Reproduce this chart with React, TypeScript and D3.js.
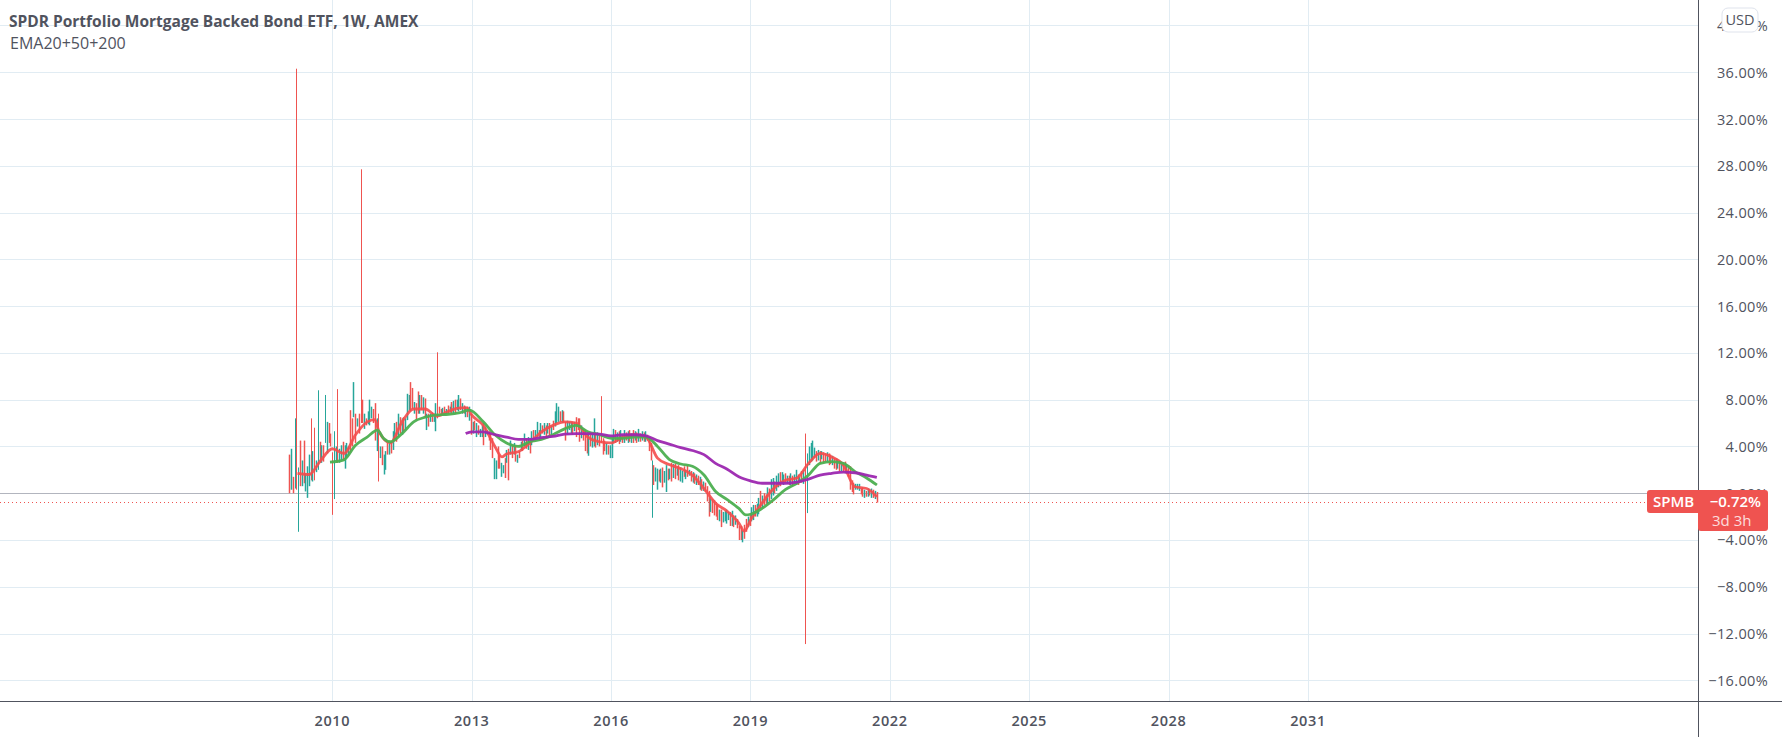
import * as d3 from "d3";

// [high %, low %, 1 = up / 0 = down], one bar every two weeks
type Bar = [number, number, number];

const bars2009: Bar[] = [
  [3.3,0,0],[3.8,.3,1],[1.4,0,0],[6.4,.4,1],[36.3,.3,0],[2.2,-3.3,1],[4.5,.6,0],[2.8,.6,1],[4.5,.85,0],[1.7,.15,1],
  [2.3,-.4,1],[3.3,.6,1],[6.4,1.1,0],[3.6,1,1],[5.6,1.1,0],[2.8,1.8,1],[8.8,2,1],[4.4,2.6,0],[4.1,2.6,1],[4.1,2.7,0],
  [8.4,4.3,1],[6.1,3.4,1],[6,4.3,0],[5.1,4,0],[3.5,-1.85,0],[5.3,-.5,1],[4,2.6,1],[8.9,2.6,0],[3.8,2.6,1],[4.1,2.8,1],
  [4.4,2.8,0],[4.1,2.1,1],[4.3,3,1],[4,3.3,1],[7.1,3.5,0],[6.4,4,0],[9.5,6.5,1],[6.8,4.3,0],[6.4,5.7,1],[6.8,5.1,0],
  [27.7,6,0],[8,6,0],[6.8,5.5,1],[6.4,5.8,0],[7,5.9,1],[8,5.8,1],[7.4,6.4,1],[7.2,6,0],[7.7,4.5,0],[6.4,3.6,1],
  [6.8,1,0],[4,3,1],[4,2.4,0],[3.3,1.6,1],[3.6,2,1],[4.3,3.3,0],[4.3,3.3,1],[4.4,3.4,0],[5.3,3.7,1],[6,4.5,1],
  [6.1,4.4,0],[6.8,4.8,1],[6.5,5.1,0],[6.4,5,1],[6.5,5.3,0],[6.4,5.4,1],[8.5,6.25,1],[8.4,7.1,1],[9.5,7,0],[9,7.2,0],
  [7.8,6.8,1],[7.7,6.3,0],[8.7,6.8,0],[8.4,6.8,1],[8.4,7.1,0],[8.2,6.8,1],[8.1,6.5,0],[6.8,5.4,1],[6.8,5.7,0],[6.8,6.1,1],
  [6.9,6.1,0],[6.8,6.1,1],[7.7,5.3,1],[12.05,6.4,0],[7.4,6.8,0],[7.2,6.7,0],[7.3,6.8,1],[7.4,6.7,0],[7.2,6.8,1],[7.5,6.8,0],
  [7.4,6.9,1],[7.6,6.9,1],
];

const bars2012: Bar[] = [
  [7.8,6.8,0],[7.9,6.8,1],[8,6.8,0],[8,7.1,1],[8.4,7,1],[8.1,7.1,0],[7.7,6.8,1],[7.5,6.8,0],[7.4,6.5,1],[7.4,6.5,0],
  [7.4,6.2,1],[6.8,5,0],[6.1,5.1,1],[6.2,5.4,0],[6,4.8,1],[5.8,5,0],[5.5,4.8,1],[5.8,4.8,1],[6,4.1,0],[5.7,4.8,1],
  [5.4,5,1],[5.3,4.5,0],[5.1,3.7,0],[4.7,3,0],[3,1.2,1],[2.8,1.2,1],[4,2.1,0],[3.3,2.1,0],[2.6,1.4,1],[2.4,1.7,1],
  [3,1.3,0],[3.7,2.6,1],[3.8,1.1,0],[4.5,3.3,1],[4.1,3,0],[4.3,3.3,1],[4,2.7,0],[3.3,2.6,1],[3.6,3,0],[4.4,3.6,1],
  [4.5,3.6,0],[5.1,4,1],[4.7,3.8,0],[4.8,3.7,1],[4.7,3.4,0],[5.3,4.1,1],[5.4,4.5,0],[5.4,4.8,1],[6.1,4.8,1],[5.4,4.5,0],
  [6,4.8,1],[5.8,5.1,0],[6,5,1],[5.8,4.7,0],[6,5.1,1],[6,4.8,0],[5.8,5,1],[6.2,5.4,0],[7,5.7,1],[7.7,6,1],
  [7.4,6.1,1],[7,6.1,0],[7.1,6,1],[7,6,0],[6.1,4.5,0],[6.2,5,1],[6.1,5.4,1],[6.1,5.1,1],[6.1,5,0],[6.1,5.3,1],
  [6.5,4.8,0],[6.4,5.4,0],[6.4,4.4,0],[5.8,4.7,1],[5.5,4.5,0],[5.4,3.6,0],[5.1,3.4,0],[5.1,3.2,1],[5,4,0],[5.1,3.9,1],
  [6.4,4,1],[5.2,3.9,0],[5.2,4.1,1],[4.9,4,0],[8.3,4.3,0],[4.7,3.3,0],[4.5,3.6,0],[4.3,3.3,1],[4.1,3.3,0],[4.1,3,1],
  [4.7,3,1],[5.5,4.3,1],[5.4,4.3,0],[5.2,4.4,1],[5.3,4.2,0],[5.4,4.4,1],[5,4.3,0],[5.4,4.3,1],[5.2,4.5,0],[5.3,4.3,1],
  [5.4,4.4,0],[5.1,4.3,1],[5.4,4.3,0],[5.3,4.5,1],[5.2,4.3,0],[5.5,4.4,1],[5.1,4.4,0],[5.3,4.5,1],[5.2,4.4,0],[5.3,4.4,1],
  [5,4.5,0],[4.8,3.6,0],[4.3,2.8,0],[2.8,-2.1,1],
];

const bars2016: Bar[] = [
  [2.4,.7,0],[2.2,1,1],[2.1,.3,1],[2,1,0],[2.1,.9,1],[2.2,.5,0],[1.9,.9,1],[2.4,.1,1],[2.1,1.1,0],[2.1,1.2,1],
  [2.6,1,0],[2.5,1.3,1],[2.5,1.2,0],[2.3,1.5,1],[2.4,1.1,0],[2.2,1,1],[1.9,.9,1],[2.3,1.4,0],[2,1.2,1],[2.4,1.4,0],
  [2,1.5,1],[1.9,1,0],[1.8,.9,1],[1.7,.8,0],[1.6,.7,1],[1.5,.7,0],[1.4,.3,1],[1.2,.2,0],[1,.2,1],[.9,.1,0],
  [.6,-.7,0],[.2,-2,0],[-.3,-1.6,1],[-.5,-1.7,0],[-.6,-1.9,0],[-.9,-2,0],[-1,-2.3,0],[-1.4,-2.4,1],[-1.4,-2.9,0],[-1.6,-2.5,1],
  [-1.5,-2.4,1],[-1.4,-2.6,1],[-1.6,-2.3,1],[-1.6,-2.8,0],[-1.5,-2.8,1],[-1.9,-2.9,0],[-1.9,-2.7,1],[-2.2,-3,0],[-2.8,-4,0],[-2.8,-4,0],
  [-3.2,-4.2,1],[-2.7,-3.9,0],[-2.2,-3.3,0],[-2,-2.9,1],[-1.8,-2.8,0],[-1.2,-2.4,1],[-1,-2.3,1],[-1,-2,0],[-.9,-2,1],[-.4,-1.8,1],
  [.2,-1.3,0],[-.2,-1.3,1],[0,-1,0],[-.1,-.9,0],[.5,-.9,1],[.4,-.7,0],[1.2,-.5,1],[1.3,-.2,1],[1,0,0],[1.5,.2,1],
  [1.7,.5,1],[1.8,.6,0],[1.8,.8,1],[1.6,.7,1],[1.7,.9,0],[1.5,.8,1],[1.5,.7,0],[1.7,.7,1],[1.5,.6,0],[1.6,.9,1],
  [2,.7,1],[1.6,.7,0],[1.4,.9,1],[1.9,.9,0],[2,.8,1],[5.1,-12.9,0],
];

const bars2020: Bar[] = [
  [3.4,-1.7,1],[4,2.4,1],[4.3,2.7,1],[4.5,2.8,1],[3.9,3,1],[3.6,2.7,0],[3.7,2.8,1],[3.6,2.5,0],[3.6,2.9,1],[3.5,2.6,0],
  [3.4,2.7,0],[3.5,2.7,1],[3.4,2.4,0],[3.3,2.5,0],[3.2,2.4,1],[3,2.1,0],[3,2,0],[2.9,2.1,1],[2.8,1.9,0],[2.7,1.9,1],
  [2.6,1.8,0],[2.7,1.7,0],[2.5,1.7,1],[2.4,1.4,0],[2.3,.3,0],[1.1,.1,0],[.9,-.1,0],[.8,.3,1],[.8,.3,1],[.8,.2,1],
  [.4,-.1,0],[.5,-.3,0],[.3,-.4,1],[.2,-.3,0],[.4,-.3,1],[.3,-.2,0],[.4,-.4,1],[.3,-.4,0],[.2,-.5,1],[.1,-.8,0],
];

const barStarts = [2009.075, 2012.56, 2016.91, 2020.22];
const barStep = 2 / 52.18;

// moving averages: [year, %]
const ema20 = [
  [2009.25,1.7],[2009.5,1.6],[2009.75,2.8],[2010,3.8],[2010.25,3.4],[2010.5,5],[2010.75,6.1],[2010.92,6.3],[2011,5.3],[2011.25,4.3],
  [2011.5,6.1],[2011.75,7.2],[2012,7.2],[2012.25,6.6],[2012.5,7],[2012.75,7.3],[2012.9,7.3],[2013,6.7],[2013.25,5.8],[2013.5,4],
  [2013.65,3.1],[2013.75,3.35],[2014,3.55],[2014.25,4.3],[2014.5,5.25],[2014.75,5.8],[2015,6.1],[2015.25,6],[2015.5,4.8],[2015.75,4.4],
  [2016,4.3],[2016.25,4.8],[2016.5,5],[2016.75,4.8],[2017,3],[2017.25,2.45],[2017.5,2.1],[2017.75,1.55],[2018,.4],[2018.25,-.85],
  [2018.5,-1.55],[2018.75,-2.55],[2018.87,-3.25],[2019,-2.3],[2019.25,-.85],[2019.5,.4],[2019.75,1.1],[2020,1.3],[2020.25,2.55],[2020.5,3.4],
  [2020.75,3.1],[2021,2.4],[2021.25,.55],[2021.5,.4],[2021.72,-.3],
];
const ema50 = [
  [2009.95,2.65],[2010.25,2.85],[2010.5,4.1],[2010.75,4.8],[2010.97,5.4],[2011.1,4.7],[2011.25,4.4],[2011.5,5.1],[2011.75,6.1],[2012,6.5],
  [2012.25,6.7],[2012.5,6.75],[2012.75,6.9],[2012.95,7.1],[2013.25,6.1],[2013.5,5],[2013.75,4.3],[2014,4],[2014.25,4.4],[2014.5,4.6],
  [2014.75,5],[2015,5.5],[2015.25,5.8],[2015.5,5.25],[2015.75,5],[2016,4.7],[2016.25,4.7],[2016.5,4.8],[2016.75,4.8],[2017,4],
  [2017.25,2.9],[2017.5,2.5],[2017.75,2.3],[2018,1.55],[2018.25,.15],[2018.5,-.55],[2018.75,-1.3],[2018.9,-1.85],[2019,-1.8],[2019.25,-1.3],
  [2019.5,-.55],[2019.75,.3],[2020,.85],[2020.25,1.55],[2020.5,2.55],[2020.75,2.7],[2021,2.55],[2021.25,1.85],[2021.5,1.3],[2021.72,.7],
];
const ema200 = [
  [2012.87,5.1],[2013,5.25],[2013.25,5.25],[2013.5,5],[2013.75,4.8],[2014,4.6],[2014.25,4.6],[2014.5,4.75],[2014.75,4.85],[2015,5.05],
  [2015.25,5.1],[2015.5,5.1],[2015.75,5.05],[2016,4.9],[2016.25,5],[2016.5,5],[2016.75,4.9],[2017,4.5],[2017.25,4.2],[2017.5,3.9],
  [2017.75,3.65],[2018,3.3],[2018.25,2.55],[2018.5,2.05],[2018.75,1.4],[2019,1.05],[2019.25,.85],[2019.5,.85],[2019.75,.85],[2020,.95],
  [2020.25,1.2],[2020.5,1.55],[2020.75,1.7],[2021,1.8],[2021.25,1.75],[2021.5,1.55],[2021.72,1.35],
];

const yearTicks = [2010, 2013, 2016, 2019, 2022, 2025, 2028, 2031];
const pctTicks = [40, 36, 32, 28, 24, 20, 16, 12, 8, 4, 0, -4, -8, -12, -16];
const lastPct = -0.72;

const x = d3.scaleLinear().domain([2010, 2031]).range([332.3, 1308]);
const y = d3.scaleLinear().domain([0, -16]).range([493.2, 680.3]);

const font = "'Open Sans', sans-serif";
const axisColor = "#50535e";
const up = "#26a69a";
const down = "#ef5350";

const emaLine = d3
  .line<number[]>()
  .x((d) => x(d[0]))
  .y((d) => y(d[1]))
  .curve(d3.curveMonotoneX);

function pctLabel(v: number) {
  return (v < 0 ? "\u2212" : "") + Math.abs(v).toFixed(2) + "%";
}

export default function App() {
  const segments = [bars2009, bars2012, bars2016, bars2020];
  return (
    <svg
      width={1782}
      height={737}
      style={{ position: "fixed", left: 0, top: 0, background: "#fff", fontFamily: font }}
    >
      {pctTicks.map((t) => (
        <line key={t} x1={0} x2={1698} y1={Math.round(y(t)) + 0.5} y2={Math.round(y(t)) + 0.5} stroke="#e1ecf3" />
      ))}
      {yearTicks.map((t) => (
        <line key={t} x1={Math.round(x(t)) + 0.5} x2={Math.round(x(t)) + 0.5} y1={0} y2={701} stroke="#e1ecf3" />
      ))}

      <line x1={0} x2={1698} y1={493.5} y2={493.5} stroke="#b2b5be" />
      <line x1={0} x2={1698} y1={Math.round(y(lastPct)) + 0.5} y2={Math.round(y(lastPct)) + 0.5} stroke={down} strokeDasharray="1 3" />

      {segments.map((bars, s) =>
        bars.map((b, i) => {
          const px = Math.round(x(barStarts[s] + i * barStep)) + 0.5;
          // long wicks stay hairline, the short bars read as thin bodies
          const w = b[0] - b[1] > 4 ? 1 : 1.5;
          return (
            <line
              key={s + "-" + i}
              x1={px}
              x2={px}
              y1={y(b[0])}
              y2={y(b[1])}
              stroke={b[2] ? up : down}
              strokeWidth={w}
            />
          );
        })
      )}

      <path d={emaLine(ema20) ?? ""} fill="none" stroke="#f44c4c" strokeWidth={2.8} opacity={0.9} />
      <path d={emaLine(ema50) ?? ""} fill="none" stroke="#4caf50" strokeWidth={2.8} opacity={0.95} />
      <path d={emaLine(ema200) ?? ""} fill="none" stroke="#9c27b0" strokeWidth={2.8} opacity={0.95} />

      <line x1={0} x2={1782} y1={701.5} y2={701.5} stroke={axisColor} />
      <line x1={1698.5} x2={1698.5} y1={0} y2={737} stroke={axisColor} />

      {pctTicks.map((t) => (
        <text key={t} x={1768} y={y(t) + 5.5} textAnchor="end" fontSize={14.5} fill={axisColor} letterSpacing={0.35}>
          {pctLabel(t)}
        </text>
      ))}
      {yearTicks.map((t) => (
        <text key={t} x={x(t)} y={726} textAnchor="middle" fontSize={14.5} fontWeight={600} fill={axisColor} letterSpacing={0.6}>
          {t}
        </text>
      ))}

      <text x={9} y={27} fontSize={15.5} fontWeight={700} fill={axisColor}>
        SPDR Portfolio Mortgage Backed Bond ETF, 1W, AMEX
      </text>
      <text x={10} y={49} fontSize={16} fill={axisColor}>
        EMA20+50+200
      </text>

      <rect x={1722} y={8} width={36} height={24} rx={6} fill="#fff" stroke="#dfe3ec" />
      <text x={1740} y={25} textAnchor="middle" fontSize={14.5} fill={axisColor}>
        USD
      </text>

      <path
        d="M1650,490H1765a3,3 0 0 1 3,3V528a3,3 0 0 1 -3,3H1701a3,3 0 0 1 -3,-3V513H1650a3,3 0 0 1 -3,-3V493a3,3 0 0 1 3,-3Z"
        fill={down}
      />
      <text x={1653} y={507} fontSize={15} fontWeight={600} fill="#fff">
        SPMB
      </text>
      <text x={1761} y={507} textAnchor="end" fontSize={15} fontWeight={600} fill="#fff">
        {pctLabel(lastPct)}
      </text>
      <text x={1712} y={526} fontSize={15} fill="#fff" opacity={0.8}>
        3d 3h
      </text>
    </svg>
  );
}
